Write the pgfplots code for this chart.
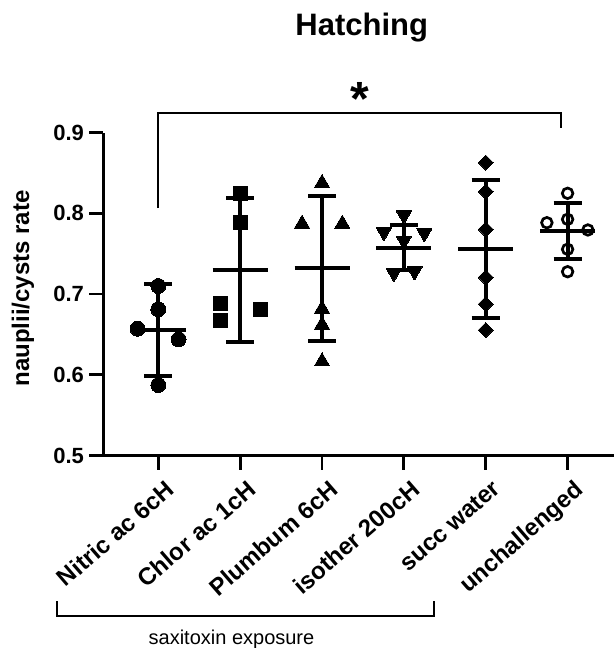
\documentclass[border=0pt]{standalone}
\usepackage{pgfplots}
\pgfplotsset{compat=1.18}
\usepackage{fontspec}
\setmainfont{Liberation Sans}

\begin{document}
\begin{tikzpicture}
\path[use as bounding box] (0,0) rectangle (307pt,-324pt);
\begin{axis}[
  at={(51.65pt,-227.75pt)}, anchor=south west,
  scale only axis, width=255.35pt, height=161.5pt,
  xmin=-0.672, xmax=5.567, ymin=0.5, ymax=0.9,
  axis x line*=bottom, axis y line*=left,
  axis line style={line width=1.4pt, -},
  tick align=outside, major tick length=7pt,
  tick style={line width=1.4pt, black},
  xtick={0,1,2,3,4,5},
  xticklabels={Nitric ac 6cH, Chlor ac 1cH, Plumbum 6cH, isother 200cH, succ water, unchallenged},
  xticklabel style={xshift=3pt, yshift=-4.5pt, rotate=41, anchor=north east, inner sep=0pt,
    font={\fontsize{12}{14}\selectfont\bfseries}},
  ytick={0.5,0.6,0.7,0.8,0.9},
  /pgf/number format/assume math mode=true,
  yticklabel style={/pgf/number format/.cd, fixed, fixed zerofill, precision=1, /tikz/.cd,
    inner sep=0pt, xshift=-2.5pt, font={\fontsize{11}{13}\selectfont\bfseries}},
  clip=false,
]
% individual points
\addplot[only marks, mark=*, mark size=3.75pt, mark options={fill=black, draw=black, line width=0pt}]
  coordinates {(0,0.7099) (0,0.6811) (-0.253,0.6570) (0.248,0.6439) (0,0.5873)};
\addplot[only marks, mark=square*, mark size=3.5pt, mark options={fill=black, draw=black, line width=0pt}]
  coordinates {(1,0.8247) (1,0.7888) (0.756,0.6885) (0.756,0.6666) (1.244,0.6814)};
\addplot[only marks, mark=triangle*, mark size=4.33pt, mark options={fill=black, draw=black, line width=0pt}]
  coordinates {(2,0.8375) (1.756,0.7871) (2.248,0.7871) (2,0.6818) (2,0.6620) (2,0.6167)};
\addplot[only marks, mark=triangle*, mark size=4.33pt, mark options={fill=black, draw=black, line width=0pt, rotate=180}]
  coordinates {(3,0.7975) (2.756,0.7768) (3.25,0.7755) (3,0.7660) (2.878,0.7260) (3.13,0.7281)};
\addplot[only marks, mark=square*, mark size=2.65pt, mark options={fill=black, draw=black, line width=0pt, rotate=45}]
  coordinates {(4,0.8626) (4,0.8267) (4,0.7801) (4,0.7207) (4,0.6876) (4,0.6554)};
\addplot[only marks, mark=o, mark size=2.65pt, mark options={draw=black, line width=1.35pt}]
  coordinates {(5,0.8247) (4.747,0.7883) (5,0.7925) (5.248,0.7793) (5,0.7554) (5,0.7276)};
% mean and SD lines
\addplot[line width=2pt, black, unbounded coords=jump] table {
x y
-0.336 0.6558
0.336 0.6558
nan nan
0 0.5988
0 0.7124
nan nan
-0.171 0.5988
0.171 0.5988
nan nan
-0.171 0.7124
0.171 0.7124
nan nan
0.664 0.7297
1.336 0.7297
nan nan
1 0.6409
1 0.8193
nan nan
0.829 0.6409
1.171 0.6409
nan nan
0.829 0.8193
1.171 0.8193
nan nan
1.664 0.7326
2.336 0.7326
nan nan
2 0.6418
2 0.8217
nan nan
1.829 0.6418
2.171 0.6418
nan nan
1.829 0.8217
2.171 0.8217
nan nan
2.664 0.7570
3.336 0.7570
nan nan
3 0.7297
3 0.7858
nan nan
2.829 0.7297
3.171 0.7297
nan nan
2.829 0.7858
3.171 0.7858
nan nan
3.664 0.7561
4.336 0.7561
nan nan
4 0.6706
4 0.8412
nan nan
3.829 0.6706
4.171 0.6706
nan nan
3.829 0.8412
4.171 0.8412
nan nan
4.664 0.7784
5.336 0.7784
nan nan
5 0.7430
5 0.8131
nan nan
4.829 0.7430
5.171 0.7430
nan nan
4.829 0.8131
5.171 0.8131
};
% significance bracket
\draw[line width=1pt] (axis cs:0,0.8065) -- (axis cs:0,0.9238) -- (axis cs:4.916,0.9238) -- (axis cs:4.916,0.9052);
\node[anchor=north, inner sep=0pt, font={\fontsize{24}{24}\selectfont\bfseries}] at (axis cs:2.466,0.9629) {*};
\end{axis}
% title and labels
\node[anchor=base, inner sep=0pt, font={\fontsize{15.5}{18}\selectfont\bfseries}] at (180.85pt,-17.5pt) {Hatching};
\node[anchor=base, rotate=90, inner sep=0pt, font={\fontsize{12}{14}\selectfont\bfseries}] at (14.5pt,-144.25pt) {nauplii/cysts rate};
\draw[line width=0.85pt] (28.35pt,-300.5pt) -- (28.35pt,-307.85pt) -- (217.15pt,-307.85pt) -- (217.15pt,-300.5pt);
\node[anchor=base, inner sep=0pt, font={\fontsize{10}{12}\selectfont}] at (115.75pt,-322pt) {saxitoxin exposure};
\end{tikzpicture}
\end{document}
